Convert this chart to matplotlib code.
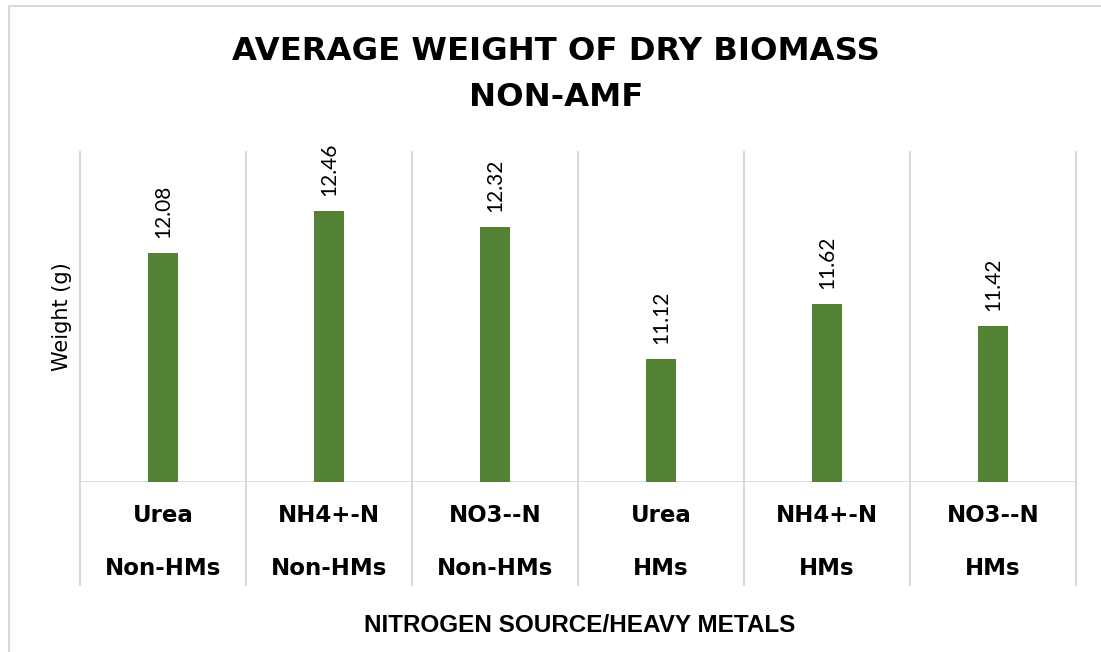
import matplotlib.pyplot as plt
from matplotlib.patches import Rectangle

# chart data
sources = ['Urea', 'NH4+-N', 'NO3--N', 'Urea', 'NH4+-N', 'NO3--N']
metals = ['Non-HMs', 'Non-HMs', 'Non-HMs', 'HMs', 'HMs', 'HMs']
weights = [12.08, 12.46, 12.32, 11.12, 11.62, 11.42]

bar_color = '#548235'
grid_color = '#d9d9d9'

fig = plt.figure(figsize=(11.01, 6.52), dpi=100)
ax = fig.add_axes([80 / 1101, 1 - 482 / 652, 996 / 1101, 330 / 652])

x = range(len(weights))
ax.bar(x, weights, width=0.18, color=bar_color, zorder=3)
ax.set_xlim(-0.5, len(weights) - 0.5)
ax.set_ylim(10, 13)

for s in ax.spines.values():
    s.set_visible(False)
ax.set_xticks([])
ax.set_yticks([])

# vertical separators between categories, running down through the label rows
for b in range(len(weights) + 1):
    ax.plot([b - 0.5, b - 0.5], [-0.312, 1.0], color=grid_color, lw=1.5,
            transform=ax.get_xaxis_transform(), clip_on=False, zorder=1)
ax.axhline(10, color=grid_color, lw=2, zorder=2)

# data labels
for i, v in enumerate(weights):
    ax.annotate(f'{v:.2f}', (i, v), xytext=(0, 11), textcoords='offset points',
                rotation=90, ha='center', va='bottom', fontsize=15,
                family='Lato', color='#000000')

# two-level category labels
tr = ax.get_xaxis_transform()
for i, (s, m) in enumerate(zip(sources, metals)):
    ax.text(i, -0.103, s, transform=tr, ha='center', va='center',
            fontsize=16.5, fontweight='bold', family='DejaVu Sans')
    ax.text(i, -0.261, m, transform=tr, ha='center', va='center',
            fontsize=16.5, fontweight='bold', family='DejaVu Sans')

ax.set_ylabel('Weight (g)', fontsize=15, family='DejaVu Sans')
ax.yaxis.set_label_coords(-8 / 996, 0.5)

fig.text(556 / 1101, 1 - 52 / 652, 'AVERAGE WEIGHT OF DRY BIOMASS',
         ha='center', va='center', fontsize=23.2, fontweight='bold', family='DejaVu Sans')
fig.text(556 / 1101, 1 - 97 / 652, 'NON-AMF',
         ha='center', va='center', fontsize=23.2, fontweight='bold', family='DejaVu Sans')
fig.text(580 / 1101, 1 - 626 / 652, 'NITROGEN SOURCE/HEAVY METALS',
         ha='center', va='center', fontsize=17.5, fontweight='bold', family='Liberation Sans')

# chart area border
fig.patches.append(Rectangle((9 / 1101, -0.1), 1.2, 1.1 - 6 / 652,
                             transform=fig.transFigure, fill=False,
                             edgecolor=grid_color, lw=1.5))

fig.savefig('out.png', dpi=100)
